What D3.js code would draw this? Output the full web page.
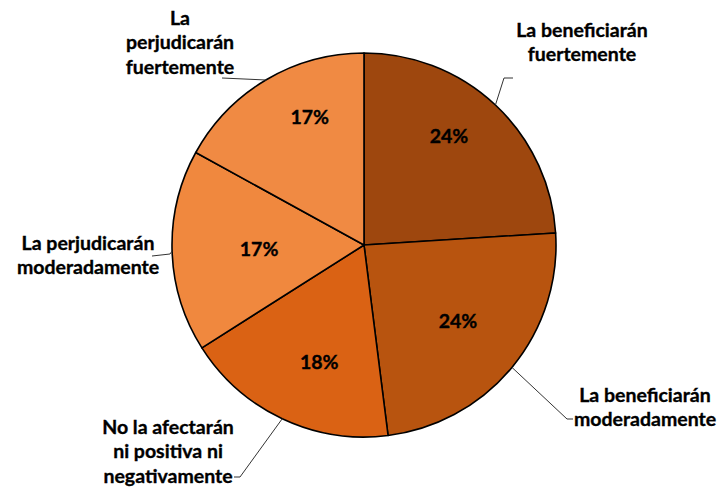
<!DOCTYPE html>
<html><head><meta charset="utf-8">
<script src="https://cdn.jsdelivr.net/npm/d3@7/dist/d3.min.js"></script>
<style>html,body{margin:0;padding:0;background:#fff;}svg{display:block;}</style>
</head><body><svg id="c" width="727" height="492"></svg>
<script>
const categories = [
  ["La beneficiarán", "fuertemente"],
  ["La beneficiarán", "moderadamente"],
  ["No la afectarán", "ni positiva ni", "negativamente"],
  ["La perjudicarán", "moderadamente"],
  ["La", "perjudicarán", "fuertemente"]
];
const values = [24, 24, 18, 17, 17];
const valueLabels = ["24%", "24%", "18%", "17%", "17%"];
const colors = ["#9E470E", "#B8540F", "#DA6214", "#F0883E", "#F08A43"];

// layout (relative to pie centre): label centre x, first-line y, leader elbow and end
const layout = [
  {tx: 218, ty: -215, elbow: [140, -167], end: [149, -167], lr: 138, la: 38},
  {tx: 281, ty: 150, elbow: [203, 174], end: [209, 174], lr: 121, la: 129},
  {tx: -196, ty: 182, elbow: [-124, 232], end: [-130, 232], lr: 125, la: 201},
  {tx: -276, ty: -2, elbow: [-194, 9], end: [-212, 11], lr: 105, la: 268},
  {tx: -184, ty: -227, elbow: [-98, -165], end: [-142, -167], lr: 139, la: 337}
];

const cx = 364, cy = 245, R = 192;
const svg = d3.select("#c");
const g = svg.append("g").attr("transform", `translate(${cx},${cy})`);
const pie = d3.pie().sort(null).value(d => d)(values);
const arc = d3.arc().innerRadius(0).outerRadius(R);

g.selectAll("path.slice").data(pie).join("path")
  .attr("class", "slice")
  .attr("d", arc)
  .attr("fill", (d, i) => colors[i])
  .attr("stroke", "#000").attr("stroke-width", 1.6).attr("stroke-linejoin", "round");

const font = "Lato, 'Open Sans', sans-serif";
const fs = 19.5;

// value labels
g.selectAll("text.val").data(pie).join("text")
  .attr("class", "val")
  .attr("x", (d, i) => layout[i].lr * Math.sin(layout[i].la * Math.PI / 180))
  .attr("y", (d, i) => -layout[i].lr * Math.cos(layout[i].la * Math.PI / 180))
  .attr("dy", "0.35em")
  .attr("text-anchor", "middle")
  .attr("font-family", font).attr("font-weight", "bold").attr("font-size", fs)
  .attr("fill", "#000").attr("stroke", "#000").attr("stroke-width", 0.35)
  .text((d, i) => valueLabels[i]);

// leader lines
g.selectAll("path.leader").data(pie).join("path")
  .attr("class", "leader")
  .attr("d", (d, i) => {
    const m = (d.startAngle + d.endAngle) / 2;
    const p = [R * Math.sin(m), -R * Math.cos(m)];
    return d3.line()([p, layout[i].elbow, layout[i].end]);
  })
  .attr("fill", "none").attr("stroke", "#333").attr("stroke-width", 1);

// category labels
const lab = g.selectAll("text.cat").data(pie).join("text")
  .attr("class", "cat")
  .attr("text-anchor", "middle")
  .attr("font-family", font).attr("font-weight", "bold").attr("font-size", fs)
  .attr("fill", "#000").attr("stroke", "#000").attr("stroke-width", 0.35);
lab.each(function(d, i) {
  const t = d3.select(this);
  categories[i].forEach((line, k) => {
    t.append("tspan").attr("x", layout[i].tx).attr("y", layout[i].ty + k * 24.5)
      .attr("dy", "0.35em").text(line);
  });
});
</script></body></html>
